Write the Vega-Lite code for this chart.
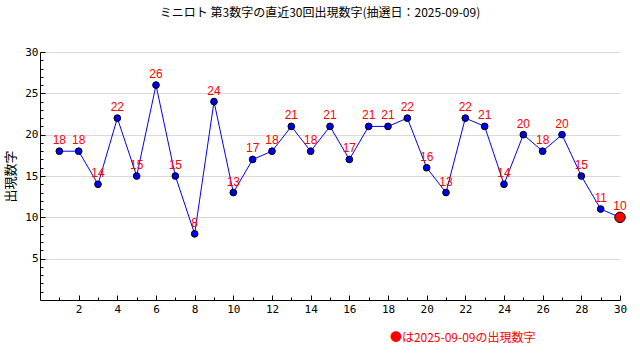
{
  "$schema": "https://vega.github.io/schema/vega-lite/v6.json",
  "width": 580,
  "height": 248,
  "autosize": {"type": "none"},
  "padding": {"left": 40, "top": 52, "right": 20, "bottom": 60},
  "background": "white",
  "title": {
    "text": "ミニロト 第3数字の直近30回出現数字(抽選日：2025-09-09)",
    "frame": "group",
    "anchor": "middle",
    "dx": -10,
    "offset": 26,
    "font": "Noto Sans CJK JP",
    "fontSize": 12,
    "fontWeight": "normal",
    "color": "#000000"
  },
  "config": {
    "view": {"stroke": null},
    "axis": {
      "domainColor": "#000000",
      "tickColor": "#000000",
      "labelColor": "#000000",
      "labelFont": "DejaVu Sans Mono",
      "labelFontSize": 11,
      "labelOverlap": false,
      "labelFlush": false,
      "titleFont": "Noto Sans CJK JP",
      "titleFontWeight": "normal",
      "titleColor": "#000000"
    }
  },
  "data": {
    "values": [
      {"n": 1, "v": 18}, {"n": 2, "v": 18}, {"n": 3, "v": 14}, {"n": 4, "v": 22},
      {"n": 5, "v": 15}, {"n": 6, "v": 26}, {"n": 7, "v": 15}, {"n": 8, "v": 8},
      {"n": 9, "v": 24}, {"n": 10, "v": 13}, {"n": 11, "v": 17}, {"n": 12, "v": 18},
      {"n": 13, "v": 21}, {"n": 14, "v": 18}, {"n": 15, "v": 21}, {"n": 16, "v": 17},
      {"n": 17, "v": 21}, {"n": 18, "v": 21}, {"n": 19, "v": 22}, {"n": 20, "v": 16},
      {"n": 21, "v": 13}, {"n": 22, "v": 22}, {"n": 23, "v": 21}, {"n": 24, "v": 14},
      {"n": 25, "v": 20}, {"n": 26, "v": 18}, {"n": 27, "v": 20}, {"n": 28, "v": 15},
      {"n": 29, "v": 11}, {"n": 30, "v": 10}
    ]
  },
  "encoding": {
    "x": {
      "field": "n", "type": "quantitative",
      "scale": {"domain": [0, 30], "nice": false, "zero": true},
      "axis": {
        "values": [1,2,3,4,5,6,7,8,9,10,11,12,13,14,15,16,17,18,19,20,21,22,23,24,25,26,27,28,29,30],
        "labelExpr": "datum.value % 2 === 0 ? datum.label : ''",
        "tickSize": {"condition": {"test": "datum.value % 2 === 0", "value": -5}, "value": -3},
        "labelPadding": 8,
        "grid": false,
        "title": "●は2025-09-09の出現数字",
        "titleColor": "#ff0000",
        "titleFontSize": 12,
        "titleAlign": "right",
        "titleAnchor": null,
        "titleBaseline": "middle",
        "titleX": 495,
        "titleY": 37
      }
    },
    "y": {
      "field": "v", "type": "quantitative",
      "scale": {"domain": [0, 30], "nice": false},
      "axis": {
        "values": [1,2,3,4,5,6,7,8,9,10,11,12,13,14,15,16,17,18,19,20,21,22,23,24,25,26,27,28,29,30],
        "labelExpr": "datum.value % 5 === 0 ? datum.label : ''",
        "tickSize": {"condition": {"test": "datum.value % 5 === 0", "value": -5}, "value": -3},
        "labelPadding": 7,
        "grid": true,
        "gridColor": "#d9d9d9",
        "gridOpacity": {"condition": {"test": "datum.value % 5 === 0", "value": 1}, "value": 0},
        "title": "出現数字",
        "titleFontSize": 13,
        "titleAngle": -90,
        "titleBaseline": "middle",
        "titleAlign": "center",
        "titleAnchor": null,
        "titleX": -30,
        "titleY": 124
      }
    }
  },
  "layer": [
    {
      "mark": {"type": "line", "color": "#0000ff", "strokeWidth": 1}
    },
    {
      "transform": [{"filter": "datum.n < 30"}],
      "mark": {"type": "point", "shape": "circle", "filled": true, "fill": "#0000ee", "stroke": "#000000", "strokeWidth": 1, "size": 45, "opacity": 1}
    },
    {
      "transform": [{"filter": "datum.n === 30"}],
      "mark": {"type": "point", "shape": "circle", "filled": true, "fill": "#ff0000", "stroke": "#000000", "strokeWidth": 1, "size": 110, "opacity": 1}
    },
    {
      "mark": {"type": "text", "color": "#ff0000", "font": "Liberation Sans", "fontSize": 12, "baseline": "middle", "dy": -11},
      "encoding": {
        "text": {"field": "v", "type": "quantitative"}
      }
    }
  ]
}
